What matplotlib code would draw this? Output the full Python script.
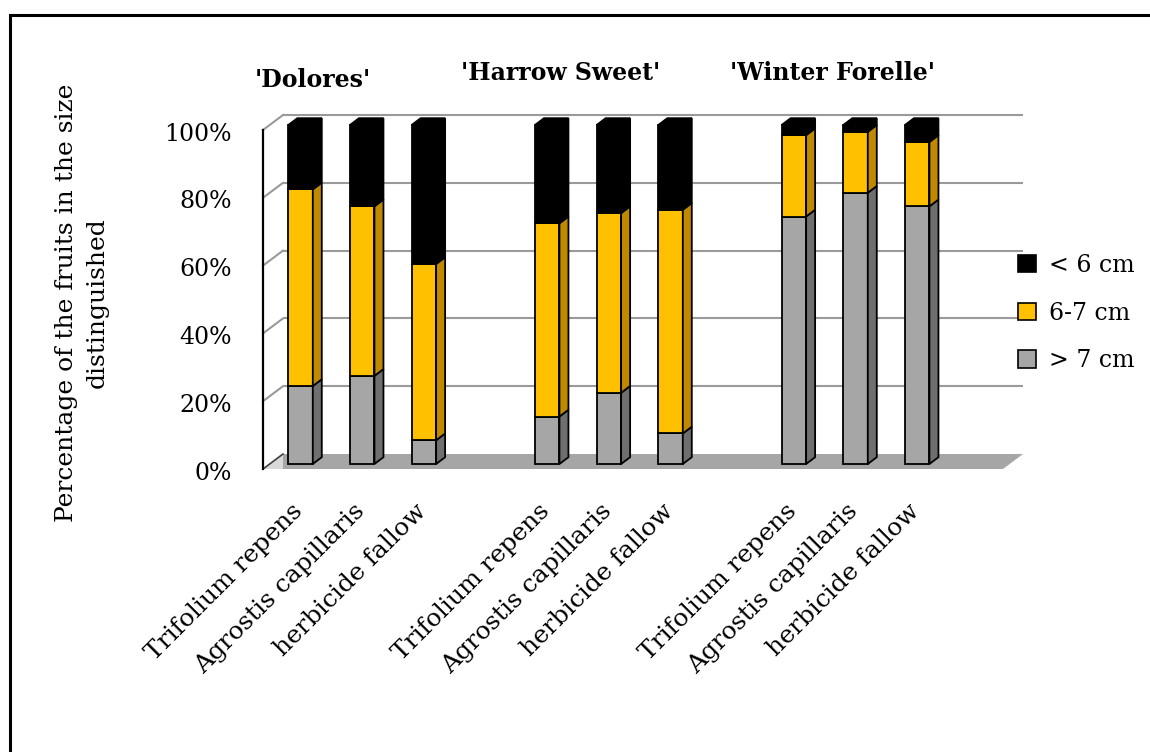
import numpy as np
import matplotlib
matplotlib.use("Agg")
import matplotlib.pyplot as plt
from matplotlib.patches import Polygon, Patch, Rectangle

plt.rcParams['font.family'] = ['DejaVu Serif']

# ---- data -------------------------------------------------------------
cultivars = ["'Dolores'", "'Harrow Sweet'", "'Winter Forelle'"]
treatments = ["Trifolium repens", "Agrostis capillaris", "herbicide fallow"]
size_classes = ["< 6 cm", "6-7 cm", "> 7 cm"]
share_gt7 = [23, 26, 7, 14, 21, 9, 73, 80, 76]     # > 7 cm
share_6_7 = [58, 50, 52, 57, 53, 66, 24, 18, 19]   # 6-7 cm
share_lt6 = [19, 24, 41, 29, 26, 25, 3, 2, 5]      # < 6 cm
y_ticks = [0, 20, 40, 60, 80, 100]
y_tick_labels = ["0%", "20%", "40%", "60%", "80%", "100%"]

# ---- styling ----------------------------------------------------------
face_colors = {"> 7 cm": "#A6A6A6", "6-7 cm": "#FFC000", "< 6 cm": "#000000"}
side_colors = {"> 7 cm": "#6F6F6F", "6-7 cm": "#BF8A00", "< 6 cm": "#000000"}
grid_color = "#9A9A9A"
edge_lw = 1.3
fs = 17

W, H = 1150, 752
fig = plt.figure(figsize=(W / 100, H / 100), dpi=100)

# front plane of the plot box in pixels
px_left, px_right, px_bottom, px_top = 263, 1003, 469, 130
ax = fig.add_axes([px_left / W, 1 - px_bottom / H,
                   (px_right - px_left) / W, (px_bottom - px_top) / H])
n_slots = 12
ax.set_xlim(-0.5, n_slots - 0.5)
ax.set_ylim(0, 100)
ax.axis("off")

slot_px = (px_right - px_left) / n_slots
pct_px = (px_bottom - px_top) / 100.0

def to_data(dx_px, dy_px):
    return dx_px / slot_px, dy_px / pct_px

# depth vectors (oblique projection)
wall_dx, wall_dy = to_data(20, 15)
front_dx, front_dy = to_data(6.7, 5.0)
bar_dx, bar_dy = to_data(9, 6.8)
bar_w = 24.5 / slot_px

# category positions: three groups of three, an empty slot between groups
positions = []
for g in range(len(cultivars)):
    for t in range(len(treatments)):
        positions.append(g * 4 + t)
positions = np.array(positions, dtype=float)

x0, x1 = -0.5, n_slots - 0.5

# floor
floor = Polygon([(x0, 0), (x1, 0), (x1 + wall_dx, wall_dy), (x0 + wall_dx, wall_dy)],
                closed=True, facecolor="#A6A6A6", edgecolor="none", zorder=1, clip_on=False)
ax.add_patch(floor)
ax.add_patch(Polygon([(x0, 0), (x0 + wall_dx, wall_dy), (x0 + wall_dx, 0)],
                     closed=True, facecolor="#D9D9D9", edgecolor="none", zorder=1.1, clip_on=False))

# back wall and side wall gridlines
for v in y_ticks[1:]:
    ax.plot([x0 + wall_dx, x1 + wall_dx], [v + wall_dy, v + wall_dy],
            color=grid_color, lw=1.5, zorder=1, clip_on=False, solid_capstyle="butt")
    ax.plot([x0, x0 + wall_dx], [v, v + wall_dy],
            color=grid_color, lw=1.5, zorder=1, clip_on=False)
ax.plot([x0, x0 + wall_dx], [0, wall_dy], color="#404040", lw=1.2, zorder=1.2, clip_on=False)
ax.plot([x0, x0], [0, 100], color="black", lw=1.6, zorder=1.5, clip_on=False)

# stacked 3-D bars
stacks = [("> 7 cm", share_gt7), ("6-7 cm", share_6_7), ("< 6 cm", share_lt6)]
bottoms = np.zeros(len(positions))
xs = positions + front_dx
for label, vals in stacks:
    vals = np.array(vals, dtype=float)
    ax.bar(xs, vals, width=bar_w, bottom=bottoms + front_dy,
           color=face_colors[label], edgecolor="black", lw=edge_lw,
           zorder=3, clip_on=False, align="center")
    for xc, b, v in zip(xs, bottoms, vals):
        xr = xc + bar_w / 2
        yb, yt = b + front_dy, b + v + front_dy
        side = Polygon([(xr, yb), (xr + bar_dx, yb + bar_dy),
                        (xr + bar_dx, yt + bar_dy), (xr, yt)],
                       closed=True, facecolor=side_colors[label],
                       edgecolor="black", lw=edge_lw, zorder=3, clip_on=False)
        ax.add_patch(side)
    bottoms = bottoms + vals

# top faces
for xc, top in zip(xs, bottoms):
    xl, xr = xc - bar_w / 2, xc + bar_w / 2
    yt = top + front_dy
    ax.add_patch(Polygon([(xl, yt), (xr, yt), (xr + bar_dx, yt + bar_dy),
                          (xl + bar_dx, yt + bar_dy)],
                         closed=True, facecolor="black", edgecolor="black",
                         lw=edge_lw, zorder=3.5, clip_on=False))

# y tick labels
for v, lab in zip(y_ticks, y_tick_labels):
    ax.text(x0 - 31 / slot_px, v - 1.2, lab, ha="right", va="center",
            fontsize=fs, clip_on=False)

# category labels
for xc, i in zip(xs, range(len(positions))):
    ax.text(xc - 1 / slot_px, -11.5, treatments[i % 3], rotation=45,
            rotation_mode="anchor", ha="right", va="center", fontsize=fs + 1,
            clip_on=False)

# cultivar titles
title_x = [313, 561, 833]
title_y = [80, 73, 73]
for name, tx, ty in zip(cultivars, title_x, title_y):
    fig.text(tx / W, 1 - ty / H, name, ha="center", va="center",
             fontsize=fs, fontweight="bold")

# axis title
fig.text(82 / W, 1 - 303 / H,
         "Percentage of the fruits in the size\ndistinguished",
         rotation=90, ha="center", va="center", multialignment="center",
         fontsize=fs + 1, linespacing=1.45)

# legend
handles = [Patch(facecolor=face_colors[s], edgecolor="black", lw=1.2) for s in size_classes]
fig.legend(handles, size_classes, loc="center left",
           bbox_to_anchor=(1009 / W, 1 - 313 / H), frameon=False,
           fontsize=fs, handlelength=0.75, handleheight=0.75,
           handletextpad=0.55, labelspacing=1.05, borderaxespad=0)

# outer frame
fig.add_artist(Rectangle((10 / W, -0.1), 1.2, 1 - 15 / H + 0.1,
                         transform=fig.transFigure, fill=False,
                         edgecolor="black", lw=2.2))

fig.savefig("out.png", dpi=100)
